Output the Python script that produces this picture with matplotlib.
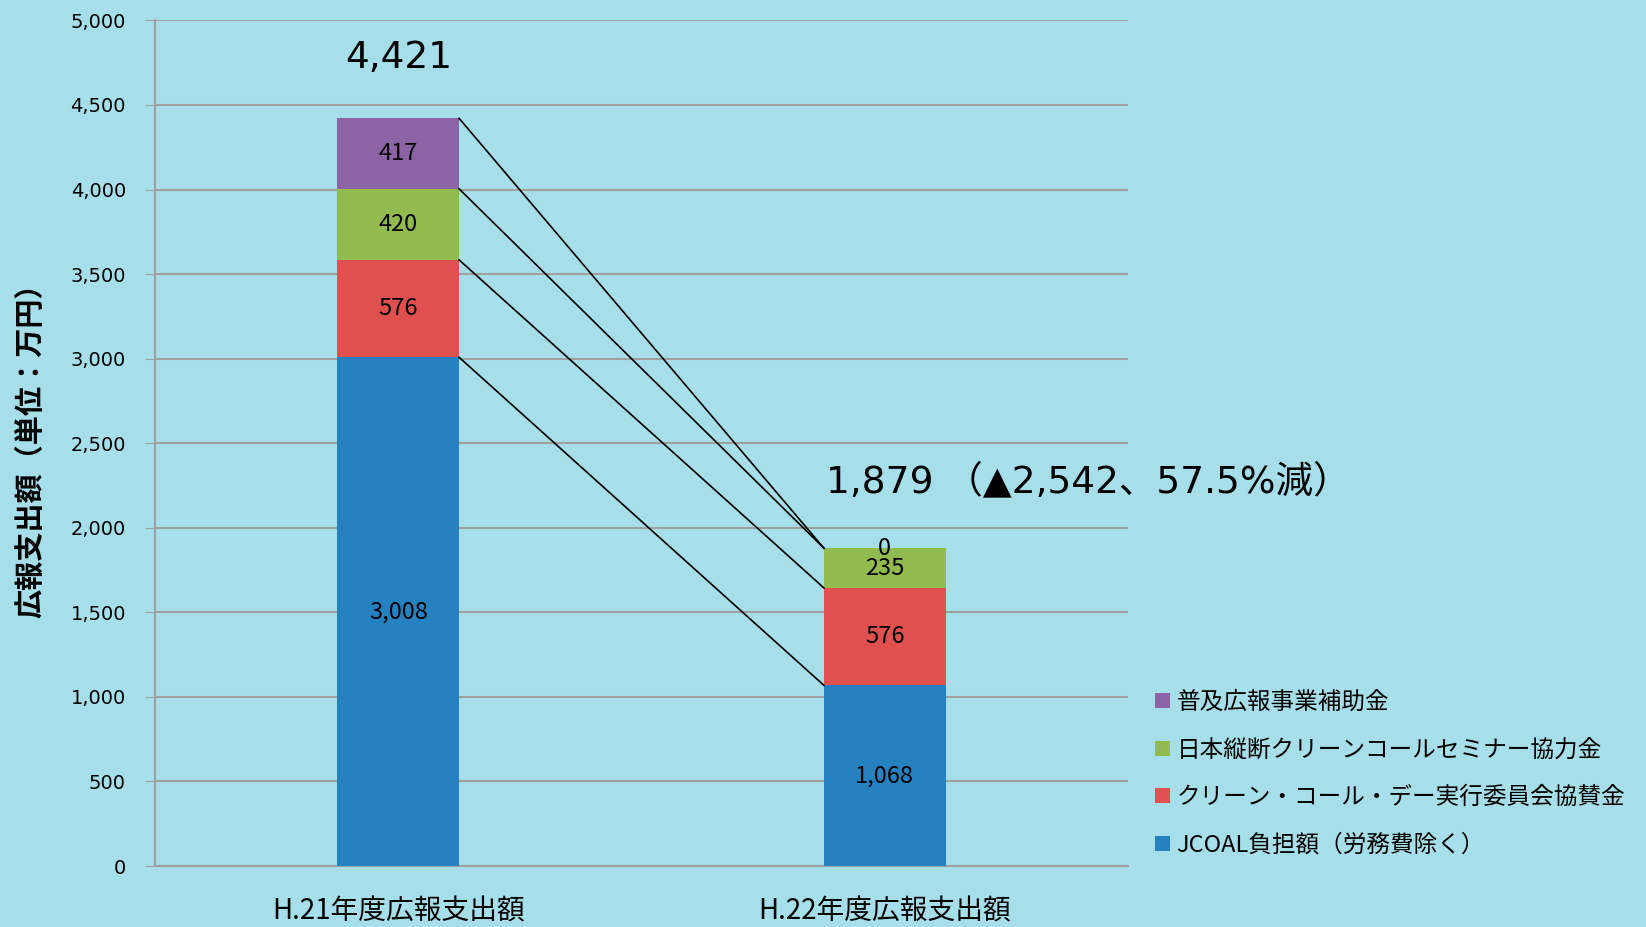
import matplotlib
matplotlib.use("Agg")
import matplotlib.pyplot as plt
import numpy as np

plt.rcParams["font.family"] = ["Noto Sans CJK JP", "DejaVu Sans"]

categories = ["H.21年度広報支出額", "H.22年度広報支出額"]
series_names = [
    "JCOAL負担額（労務費除く）",
    "クリーン・コール・デー実行委員会協賛金",
    "日本縦断クリーンコールセミナー協力金",
    "普及広報事業補助金",
]
jcoal = [3008, 1068]
ccd = [576, 576]
seminar = [420, 235]
subsidy = [417, 0]
totals = [4421, 1879]
note = "1,879 （▲2,542、57.5%減）"

colors = ["#2681c1", "#e0504e", "#92bb4f", "#8c63a5"]
bg = "#a6dfe9"

fig = plt.figure(figsize=(16.46, 9.27), dpi=100, facecolor=bg)
ax = fig.add_axes([0.0942, 0.0658, 0.5911, 0.9122], facecolor=bg)

x = np.arange(len(categories))
width = 0.25
series = [jcoal, ccd, seminar, subsidy]
bottom = np.zeros(len(categories))
tops = []
for vals, name, c in zip(series, series_names, colors):
    vals = np.array(vals, dtype=float)
    ax.bar(x, vals, width, bottom=bottom, color=c, label=name, zorder=3)
    for xi, b, v in zip(x, bottom, vals):
        ax.text(xi, b + v / 2, f"{int(v):,}", ha="center", va="center",
                fontsize=17, color="black", zorder=5)
    bottom = bottom + vals
    tops.append(bottom.copy())

# connector lines between the two stacks
for t in tops:
    ax.plot([x[0] + width / 2, x[1] - width / 2], [t[0], t[1]],
            color="black", linewidth=1.2, zorder=4)

ax.text(x[0], totals[0] + 250, f"{totals[0]:,}", ha="center", va="bottom",
        fontsize=27, family=["DejaVu Sans"])
ax.text(x[1] - width / 2 + 0.005, 2270, note, ha="left", va="center",
        fontsize=27, clip_on=False, family=["DejaVu Sans", "Noto Sans CJK JP"])

ax.set_xlim(-0.5, 1.5)
ax.set_ylim(0, 5000)
ax.set_yticks(np.arange(0, 5001, 500))
ax.set_yticklabels([f"{v:,}" for v in range(0, 5001, 500)], fontsize=14,
                   family=["DejaVu Sans"])
ax.set_xticks(x)
ax.set_xticklabels(categories, fontsize=20)
ax.tick_params(axis="x", length=0, pad=22)
ax.tick_params(axis="y", length=7, color="#a0a0a0", pad=14)
ax.yaxis.grid(True, color="#a0a0a0", linewidth=1.5, zorder=0)
ax.set_axisbelow(True)
for s in ["top", "right"]:
    ax.spines[s].set_visible(False)
for s in ["left", "bottom"]:
    ax.spines[s].set_color("#a0a0a0")
    ax.spines[s].set_linewidth(1.5)
ax.set_ylabel("広報支出額（単位：万円）", fontsize=21, fontweight="bold", labelpad=18)

handles, labels = ax.get_legend_handles_labels()
fig.legend(handles[::-1], labels[::-1], loc="upper left",
           bbox_to_anchor=(0.689, 0.278), frameon=False, fontsize=17,
           handlelength=0.6, handleheight=0.6, handletextpad=0.3,
           labelspacing=1.05)

fig.savefig("out.png", dpi=100, facecolor=bg)
